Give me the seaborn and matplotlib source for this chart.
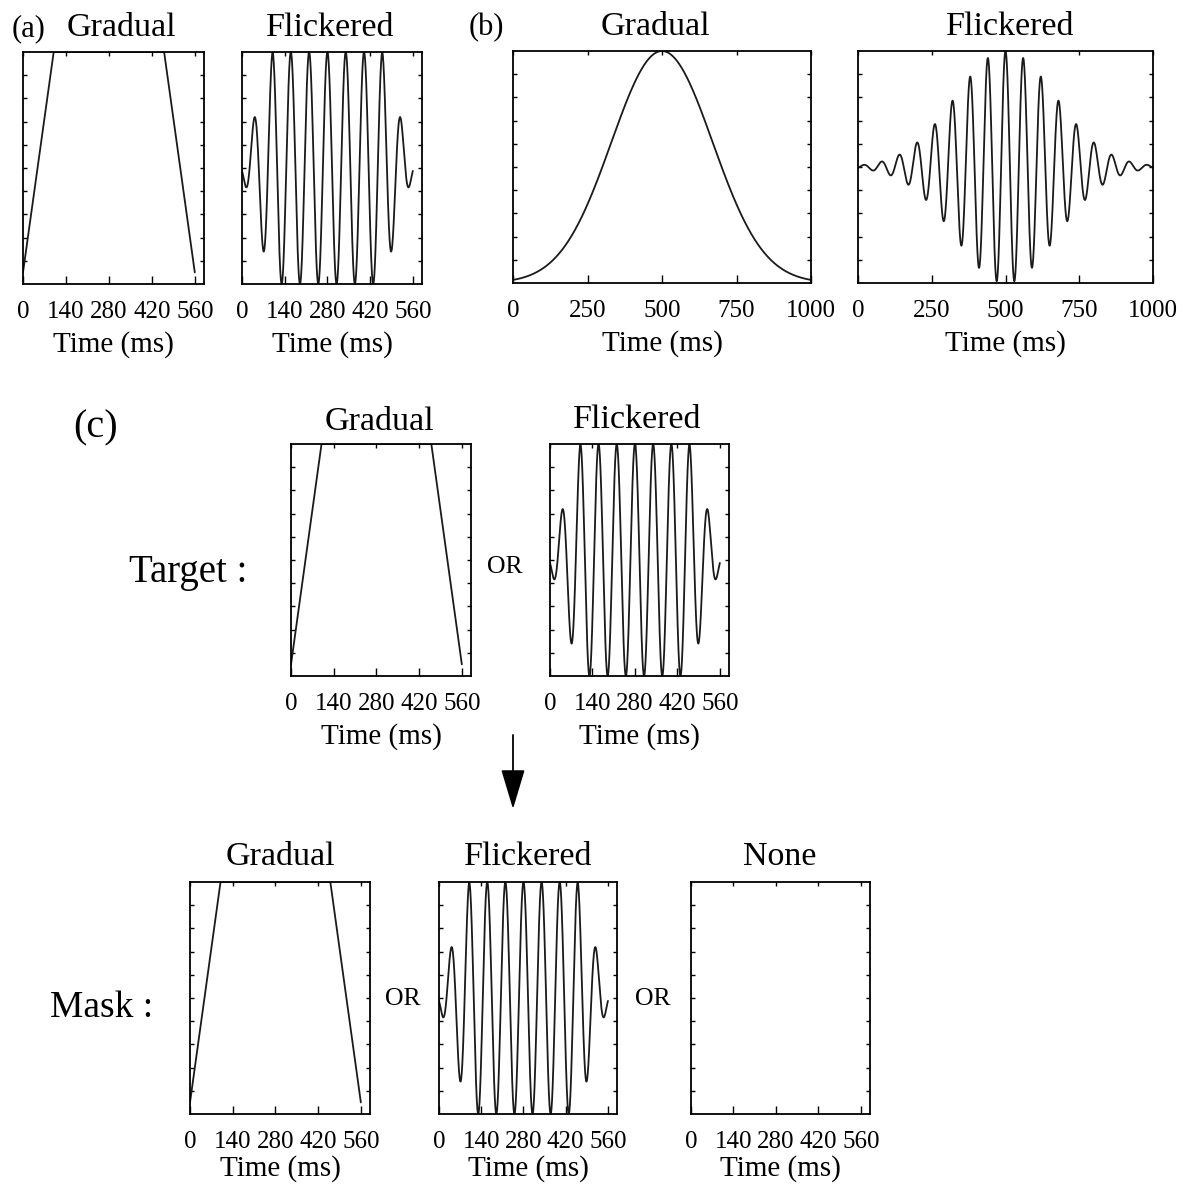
import numpy as np
import pandas as pd
import matplotlib
matplotlib.use("Agg")
import matplotlib.pyplot as plt
import seaborn as sns

# ---------------- data ----------------
# Trapezoidal (short, 560 ms) envelope: knot times and levels
ENV_T_MS = [0, 100, 460, 560]
ENV_LEVEL = [0.05, 1.0, 1.0, 0.05]
SHORT_XMAX_MS = 590
SHORT_TICKS = [0, 140, 280, 420, 560]

# Gaussian (long, 1000 ms) envelope
GAUSS_CENTER_MS = 500
GAUSS_SIGMA_MS = 170
LONG_XMAX_MS = 1000
LONG_TICKS = [0, 250, 500, 750, 1000]

# Flicker carrier (period and time of a crest)
FLICKER_PERIOD_MS = 60
SHORT_CREST_MS = 280
LONG_CREST_MS = 500
BASELINE = 0.5
HALF_RANGE = 0.5

TITLE_GRADUAL = "Gradual"
TITLE_FLICKER = "Flickered"
TITLE_NONE = "None"
XLABEL = "Time (ms)"

# ---------------- styling ----------------
sns.set_theme(style="white")
plt.rcParams["font.family"] = ["Liberation Serif", "DejaVu Serif"]

W, H = 1183, 1184
fig = plt.figure(figsize=(W / 100, H / 100), dpi=100)
fig.patch.set_facecolor("white")


def px_axes(l, r, t, b):
    return fig.add_axes([l / W, 1 - b / H, (r - l) / W, (b - t) / H])


def ftext(x, y, s, size, ha="center", va="baseline"):
    fig.text(x / W, 1 - y / H, s, fontsize=size, ha=ha, va=va, color="black")


def short_series(kind):
    t = np.linspace(0, ENV_T_MS[-1], 1400)
    env = np.interp(t, ENV_T_MS, ENV_LEVEL)
    if kind == "gradual":
        y = env
    else:
        y = BASELINE + HALF_RANGE * env * np.cos(2 * np.pi * (t - SHORT_CREST_MS) / FLICKER_PERIOD_MS)
    return pd.DataFrame({"t": t, "v": y})


def long_series(kind):
    t = np.linspace(0, LONG_XMAX_MS, 2000)
    env = np.exp(-((t - GAUSS_CENTER_MS) ** 2) / (2 * GAUSS_SIGMA_MS ** 2))
    if kind == "gradual":
        y = env
    else:
        y = BASELINE + HALF_RANGE * env * np.cos(2 * np.pi * (t - LONG_CREST_MS) / FLICKER_PERIOD_MS)
    return pd.DataFrame({"t": t, "v": y})


TICK_FS = 18
LABEL_FS = 21
TITLE_FS = 24.5


def style_axes(ax, xmax, ticks, labelpad=6):
    ax.set_xlim(0, xmax)
    ax.set_ylim(0, 1)
    ax.set_xticks(ticks)
    ax.set_xticklabels([str(v) for v in ticks], fontsize=TICK_FS)
    ax.set_yticks(np.linspace(0, 1, 11)[1:-1])
    ax.set_yticklabels([])
    ax.tick_params(axis="x", direction="in", length=6, width=1.0, pad=12,
                   bottom=True, top=False, colors="black")
    ax.tick_params(axis="y", direction="in", length=3, width=1.0,
                   left=True, right=True, labelleft=False, colors="black")
    sec = ax.secondary_xaxis("top")
    sec.set_xticks(ticks)
    sec.tick_params(direction="in", length=3, width=1.0, labeltop=False, colors="black")
    for s in sec.spines.values():
        s.set_visible(False)
    for s in ax.spines.values():
        s.set_visible(True)
        s.set_color("black")
        s.set_linewidth(1.3)
    ax.set_xlabel(XLABEL, fontsize=LABEL_FS, labelpad=labelpad, color="black")
    ax.set_ylabel("")
    ax.grid(False)
    ax.set_facecolor("white")


def draw(ax, df):
    sns.lineplot(data=df, x="t", y="v", ax=ax, color="#1a1a1a", linewidth=1.3,
                 estimator=None, sort=False, legend=False)


# ---------------- (a) ----------------
ax = px_axes(23, 204, 52, 284)
draw(ax, short_series("gradual"))
style_axes(ax, SHORT_XMAX_MS, SHORT_TICKS)
ax = px_axes(242, 422, 52, 284)
draw(ax, short_series("flicker"))
style_axes(ax, SHORT_XMAX_MS, SHORT_TICKS)
ftext(29, 36, "(a)", 22)
ftext(121, 36, TITLE_GRADUAL, TITLE_FS)
ftext(330, 36, TITLE_FLICKER, TITLE_FS)

# ---------------- (b) ----------------
ax = px_axes(513, 811, 51, 283)
draw(ax, long_series("gradual"))
style_axes(ax, LONG_XMAX_MS, LONG_TICKS)
ax = px_axes(858, 1153, 51, 283)
draw(ax, long_series("flicker"))
style_axes(ax, LONG_XMAX_MS, LONG_TICKS)
ftext(486, 35, "(b)", 22)
ftext(655, 35, TITLE_GRADUAL, TITLE_FS)
ftext(1010, 35, TITLE_FLICKER, TITLE_FS)

# ---------------- (c) target ----------------
ax = px_axes(291, 471, 444, 676)
draw(ax, short_series("gradual"))
style_axes(ax, SHORT_XMAX_MS, SHORT_TICKS)
ax = px_axes(550, 729, 444, 676)
draw(ax, short_series("flicker"))
style_axes(ax, SHORT_XMAX_MS, SHORT_TICKS)
ftext(96, 437, "(c)", 29)
ftext(379, 430, TITLE_GRADUAL, TITLE_FS)
ftext(637, 428, TITLE_FLICKER, TITLE_FS)
ftext(188, 582, "Target :", 28)
ftext(505, 573, "OR", 18.5)

# arrow
fig.patches.append(matplotlib.patches.FancyArrowPatch(
    (513 / W, 1 - 735 / H), (513 / W, 1 - 809 / H), transform=fig.transFigure,
    arrowstyle="-|>,head_length=2.5,head_width=0.75", color="black",
    linewidth=1.3, mutation_scale=10, shrinkA=0, shrinkB=0))

# ---------------- (c) mask ----------------
ax = px_axes(190, 370, 882, 1114)
draw(ax, short_series("gradual"))
style_axes(ax, SHORT_XMAX_MS, SHORT_TICKS, labelpad=2)
ax = px_axes(439, 617, 882, 1114)
draw(ax, short_series("flicker"))
style_axes(ax, SHORT_XMAX_MS, SHORT_TICKS, labelpad=2)
ax = px_axes(691, 870, 882, 1114)
style_axes(ax, SHORT_XMAX_MS, SHORT_TICKS, labelpad=2)
ftext(280, 865, TITLE_GRADUAL, TITLE_FS)
ftext(528, 865, TITLE_FLICKER, TITLE_FS)
ftext(780, 865, TITLE_NONE, TITLE_FS)
ftext(102, 1017, "Mask :", 27)
ftext(403, 1005, "OR", 18.5)
ftext(653, 1005, "OR", 18.5)

fig.savefig("out.png", dpi=100, facecolor="white")
